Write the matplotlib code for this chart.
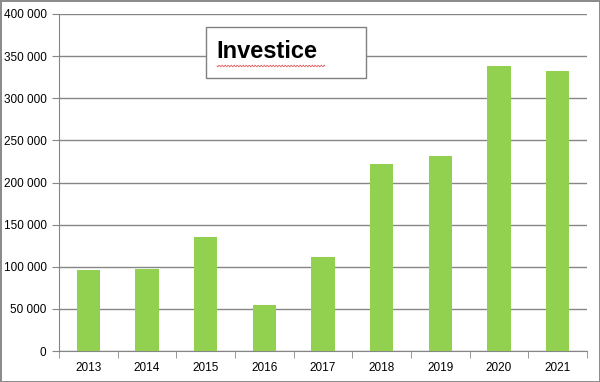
import matplotlib
matplotlib.use("Agg")
import matplotlib.pyplot as plt
import numpy as np
from matplotlib.ticker import FuncFormatter, FixedLocator

years = ["2013", "2014", "2015", "2016", "2017", "2018", "2019", "2020", "2021"]
values = [96000, 97500, 135500, 54500, 111500, 222000, 231500, 338000, 332000]
title = "Investice"

plt.rcParams['font.family'] = ['Liberation Sans', 'DejaVu Sans']

fig = plt.figure(figsize=(6, 3.82), dpi=100)
fig.patch.set_edgecolor('#8c8c8c')
fig.patch.set_linewidth(2)
ax = fig.add_axes([59/600, 31/382, 528/600, 337/382])

x = np.arange(len(years))
ax.bar(x, values, width=0.4, color='#92D050', zorder=3)
ax.set_xlim(-0.5, len(years) - 0.5)
ax.set_ylim(0, 400000)
ax.set_yticks(np.arange(0, 400001, 50000))
ax.yaxis.set_major_formatter(FuncFormatter(lambda v, p: f"{int(v):,}".replace(",", " ")))
ax.set_xticks(x)
ax.set_xticklabels(years)
ax.xaxis.set_minor_locator(FixedLocator(np.arange(-0.5, len(years), 1.0)))
ax.tick_params(axis='x', which='major', length=0, pad=8, labelsize=8.5)
ax.tick_params(axis='x', which='minor', length=5, color='#868686', direction='out')
ax.tick_params(axis='y', length=5, color='#868686', pad=4, labelsize=8.5)
ax.grid(axis='y', color='#868686', linewidth=1, zorder=0)
for s in ['top', 'right']:
    ax.spines[s].set_visible(False)
ax.spines['left'].set_color('#868686')
ax.spines['bottom'].set_color('#868686')

# Title box
fig.text(216/600, 1 - 52/382, title, fontsize=17, fontweight='bold', va='center', ha='left',
         bbox=dict(boxstyle='square,pad=0', facecolor='white', edgecolor='none'))
from matplotlib.patches import Rectangle
fig.patches.append(Rectangle((206/600, 1 - 78/382), 160/600, 51/382, transform=fig.transFigure,
                             facecolor='white', edgecolor='#808080', linewidth=1, zorder=2))
fig.texts[-1].set_zorder(3)
# spell-check wavy underline
wx = np.linspace(217, 325, 120)
wy = 66 + 1.0 * np.sin((wx - 217) * 2 * np.pi / 3.0)
fig.add_artist(plt.Line2D(wx / 600, 1 - wy / 382, transform=fig.transFigure, color='#e06060',
                          linewidth=0.6, zorder=4))

fig.savefig("out.png", dpi=100)
